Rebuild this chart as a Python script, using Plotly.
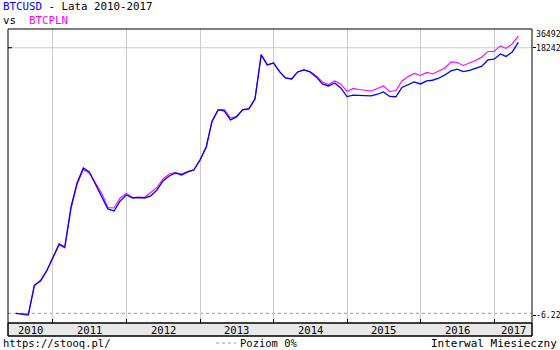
import numpy as np
import pandas as pd
import plotly.graph_objects as go

# ---- data (monthly, % change since July 2010) ----
months = pd.date_range("2010-07-01", periods=83, freq="MS")

btcusd_pct = [0, -2.5, -6.22, 184, 230, 378, 701, 1195, 1059, 4980,
              12240, 21380, 18440, 11790, 7530, 4620, 4285, 6247, 7820, 6990,
              7120, 6990, 7530, 9430, 13190, 15890, 17770, 16490, 18440, 19850,
              28790, 46600, 117570, 183250, 176600, 126560, 141460, 183250, 190100, 275200,
              1399900, 967300, 1041500, 746600, 598200, 576500, 746600, 803900, 746600, 620700,
              479200, 445100, 497100, 413300, 299700, 315600, 313200, 309700, 307500, 327400,
              356500, 301900, 298600, 421000, 470400, 516000, 479200, 535500, 549400, 591600,
              668200, 774700, 825000, 755000, 789300, 865800, 925300, 1163500, 1198600, 1452300,
              1324200, 1563700, 2222400]

btcpln_pct = [0, -0.7, -2.5, 174, 242, 378, 672, 1149, 1017, 4620,
              11580, 20230, 17770, 12020, 8275, 4890, 4800, 6990, 8275, 7120,
              7260, 7260, 8590, 10350, 14210, 17120, 18100, 17120, 18780, 19850,
              28790, 47480, 122000, 186700, 186700, 136300, 144100, 186700, 193700, 275200,
              1425900, 967300, 1041500, 746600, 598200, 576500, 746600, 803900, 760500, 644100,
              516000, 470400, 535500, 479200, 363100, 405700, 391000, 376800, 369900, 405700,
              445100, 363100, 376800, 535500, 632300, 706400, 656000, 733100, 693500, 774700,
              865800, 1080600, 1060800, 949500, 1041500, 1142300, 1300100, 1592800, 1592800, 1951900,
              1779900, 2101900, 2824900]

axis_max_pct = 3649230
axis_max_text = "36492"          # visible part of the (truncated) label
ytick_pct = [1824230, -6.22]
ytick_text = ["18242", "-6.22"]
year_labels = [2010, 2011, 2012, 2013, 2014, 2015, 2016, 2017]

x_start = pd.Timestamp("2010-05-23")
x_end = pd.Timestamp("2017-07-08")

FONT = "DejaVu Sans Mono"
FS = 10.5
FS_AX = 8.2

def ratio(p):
    return 1 + np.asarray(p, dtype=float) / 100.0

W, H = 560, 350
L, R, T, B = 8, 28, 29, 27
PW, PH = W - L - R, H - T - B

fig = go.Figure()
fig.add_trace(go.Scatter(x=months, y=ratio(btcpln_pct), mode="lines",
                         line=dict(color="#ff00ff", width=1.1), hoverinfo="skip"))
fig.add_trace(go.Scatter(x=months, y=ratio(btcusd_pct), mode="lines",
                         line=dict(color="#0000ff", width=1.3), hoverinfo="skip"))

ymin_log = -0.1557
ymax_log = float(np.log10(ratio(axis_max_pct)))

year_starts = [pd.Timestamp(f"{y}-01-01") for y in year_labels[1:]]

shapes = [
    dict(type="rect", xref="paper", yref="paper", x0=0, x1=1, y0=-13 / PH, y1=0,
         fillcolor="#e8e8e8", line=dict(color="black", width=1), layer="below"),
    dict(type="line", xref="paper", yref="y", x0=0, x1=1,
         y0=float(ratio(ytick_pct[0])), y1=float(ratio(ytick_pct[0])),
         line=dict(color="#cccccc", width=1), layer="below"),
    dict(type="line", xref="paper", yref="y", x0=0, x1=4 / PW,
         y0=float(ratio(ytick_pct[0])), y1=float(ratio(ytick_pct[0])),
         line=dict(color="black", width=1)),
    dict(type="line", xref="paper", yref="y", x0=0, x1=1, y0=1, y1=1,
         line=dict(color="#999999", width=1, dash="3px,3px"), layer="below"),
    dict(type="rect", xref="paper", yref="paper", x0=0, x1=1, y0=-13 / PH, y1=1,
         line=dict(color="black", width=1), layer="above"),
    dict(type="line", xref="paper", yref="paper", x0=0, x1=1, y0=0, y1=0,
         line=dict(color="black", width=1), layer="above"),
    dict(type="line", xref="paper", yref="paper", x0=(216 - L) / PW, x1=(236 - L) / PW,
         y0=-20 / PH, y1=-20 / PH, line=dict(color="#999999", width=1, dash="3px,3px")),
]

annotations = []
for y in year_labels:
    a = max(x_start, pd.Timestamp(f"{y}-01-01"))
    b = min(x_end, pd.Timestamp(f"{y + 1}-01-01"))
    mid = a + (b - a) / 2
    annotations.append(dict(x=mid, xref="x", y=-6.5 / PH, yref="paper", text=str(y),
                            showarrow=False, xanchor="center", yanchor="middle",
                            font=dict(family=FONT, size=FS, color="black")))

# right-hand value labels
for v, t in zip(ytick_pct, ytick_text):
    annotations.append(dict(x=1, xshift=2, y=float(np.log10(ratio(v))), xref="paper", yref="y",
                            xanchor="left", yanchor="middle", text=t, showarrow=False,
                            font=dict(family=FONT, size=FS_AX, color="black")))

annotations += [
    dict(x=-7 / PW, y=1 + 22 / PH, xref="paper", yref="paper", xanchor="left", yanchor="middle",
         text='<span style="color:#0000ff">BTCUSD</span> - Lata 2010-2017',
         showarrow=False, font=dict(family=FONT, size=10.8, color="black")),
    dict(x=-7 / PW, y=1 + 9 / PH, xref="paper", yref="paper", xanchor="left", yanchor="middle",
         text='vs  <span style="color:#ff00ff">BTCPLN</span>',
         showarrow=False, font=dict(family=FONT, size=10.8, color="black")),
    dict(x=1, xshift=2, y=1, yshift=-5, xref="paper", yref="paper", xanchor="left", yanchor="middle",
         text=axis_max_text, showarrow=False, font=dict(family=FONT, size=FS_AX, color="black")),
    dict(x=-7 / PW, y=-20 / PH, xref="paper", yref="paper", xanchor="left", yanchor="middle",
         text="https://stooq.pl/", showarrow=False, font=dict(family=FONT, size=FS, color="black")),
    dict(x=(238 - L) / PW, y=-20 / PH, xref="paper", yref="paper", xanchor="left", yanchor="middle",
         text="Poziom 0%", showarrow=False, font=dict(family=FONT, size=FS, color="black")),
    dict(x=(559 - L) / PW, y=-20 / PH, xref="paper", yref="paper", xanchor="right", yanchor="middle",
         text="Interwal Miesieczny", showarrow=False, font=dict(family=FONT, size=11, color="black")),
]

fig.update_layout(
    width=W, height=H,
    margin=dict(l=L, r=R, t=T, b=B, pad=0, autoexpand=False),
    paper_bgcolor="white", plot_bgcolor="white",
    showlegend=False,
    xaxis=dict(type="date", range=[x_start, x_end], tickvals=year_starts,
               showticklabels=False, ticks="inside", ticklen=4, tickcolor="black",
               showgrid=True, gridcolor="#cccccc", gridwidth=1, automargin=False,
               showline=False, zeroline=False, fixedrange=True),
    yaxis=dict(type="log", range=[ymin_log, ymax_log], side="right",
               tickvals=[float(v) for v in ratio(ytick_pct)], showticklabels=False,
               ticks="outside", ticklen=3, tickcolor="black", automargin=False,
               showgrid=False, zeroline=False, showline=False, fixedrange=True),
    shapes=shapes,
    annotations=annotations,
)

fig.write_html("out.html")
